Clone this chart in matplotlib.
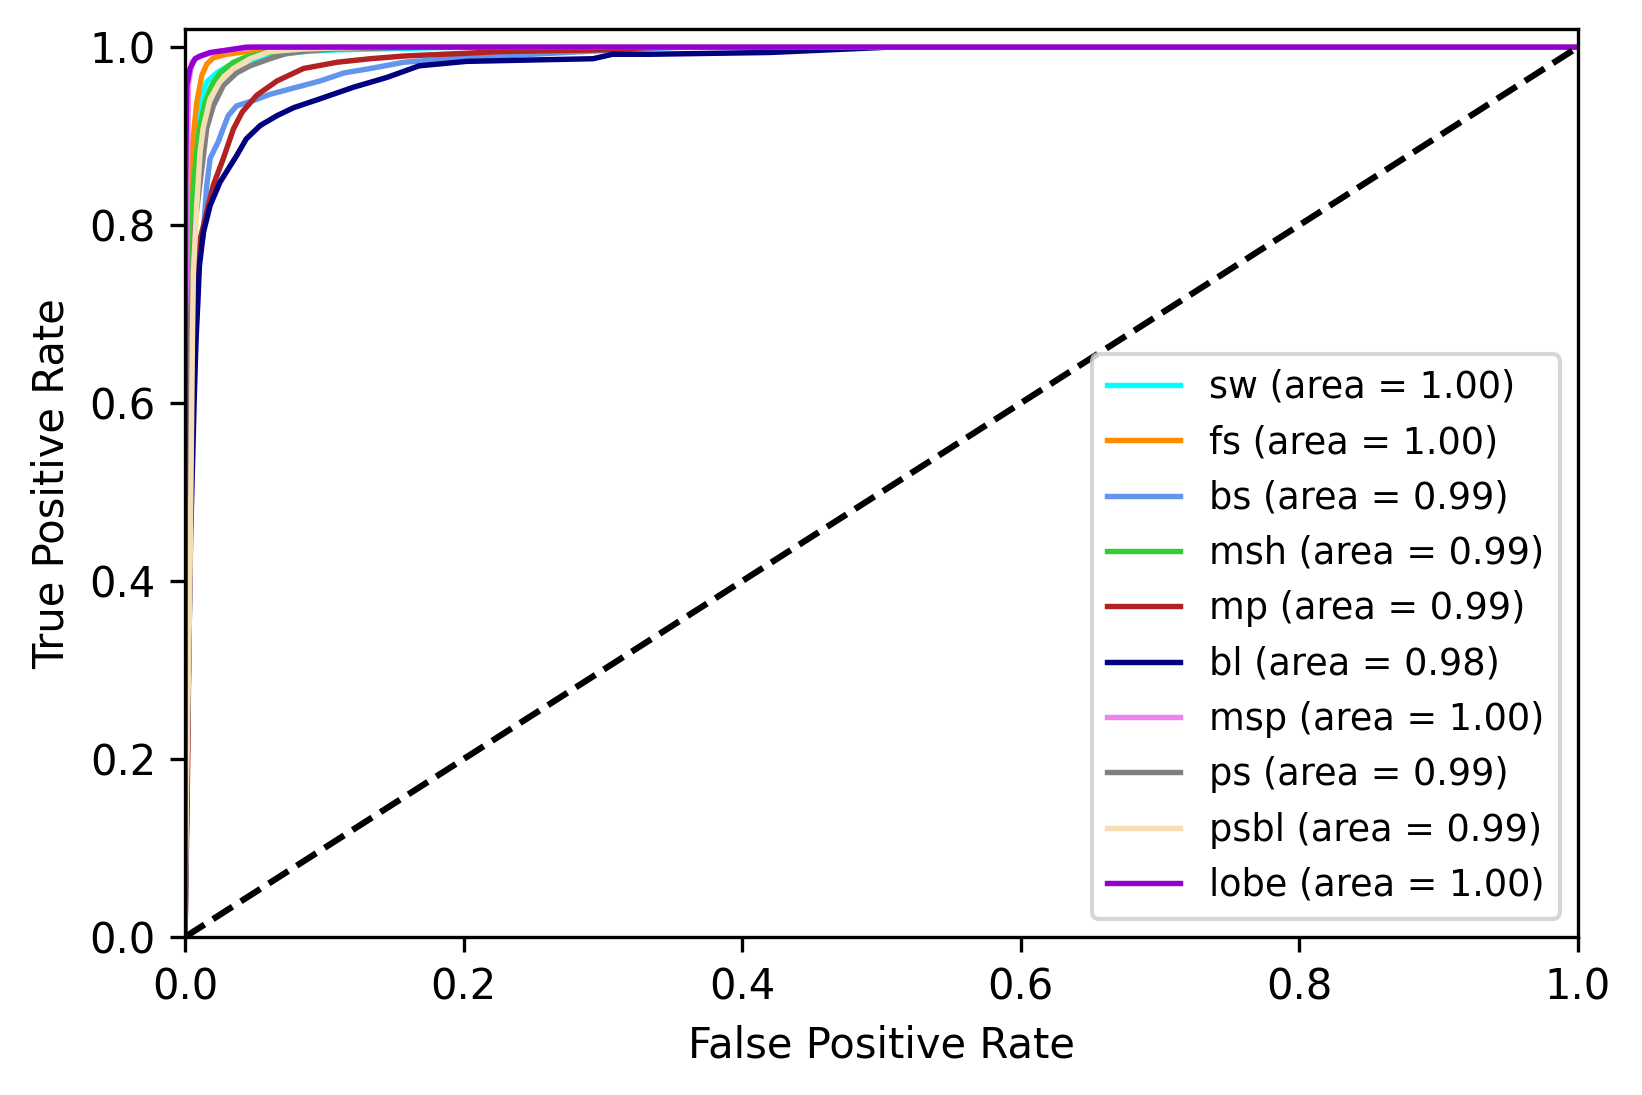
import numpy as np
import matplotlib.pyplot as plt

# class names and AUC values shown in the legend
classes = ['sw', 'fs', 'bs', 'msh', 'mp', 'bl', 'msp', 'ps', 'psbl', 'lobe']
aucs = [1.00, 1.00, 0.99, 0.99, 0.99, 0.98, 1.00, 0.99, 0.99, 1.00]
colors = ['aqua', 'darkorange', 'cornflowerblue', 'limegreen', 'firebrick',
          'navy', 'violet', 'gray', 'wheat', 'darkviolet']

# ROC points (fpr, tpr)
fpr_sw = [0, 0.0005, 0.0015, 0.003, 0.0048, 0.0072, 0.0108, 0.0156, 0.0227, 0.031, 0.044, 0.061, 0.085, 0.109, 0.14, 0.169, 0.2, 1.0]
tpr_sw = [0, 0.3, 0.55, 0.72, 0.845, 0.901, 0.938, 0.961, 0.971, 0.979, 0.985, 0.990, 0.995, 0.997, 0.998, 0.999, 1.0, 1.0]

fpr_fs = [0, 0.0005, 0.0015, 0.0028, 0.0036, 0.0048, 0.0084, 0.012, 0.0156, 0.0203, 0.0299, 0.049, 0.073, 0.097, 1.0]
tpr_fs = [0, 0.35, 0.6, 0.75, 0.845, 0.882, 0.938, 0.968, 0.981, 0.988, 0.992, 0.996, 0.999, 1.0, 1.0]

fpr_bs = [0, 0.001, 0.003, 0.006, 0.0084, 0.013, 0.0156, 0.018, 0.0239, 0.0275, 0.031, 0.037, 0.049, 0.061, 0.0754, 0.097, 0.114, 0.133, 0.157, 0.2, 0.262, 0.31, 0.36, 1.0]
tpr_bs = [0, 0.25, 0.5, 0.68, 0.75, 0.788, 0.845, 0.875, 0.894, 0.909, 0.923, 0.934, 0.940, 0.947, 0.953, 0.962, 0.971, 0.976, 0.983, 0.988, 0.993, 0.997, 1.0, 1.0]

fpr_msh = [0, 0.0005, 0.0015, 0.003, 0.0036, 0.0043, 0.006, 0.0084, 0.0108, 0.0144, 0.0191, 0.0251, 0.0347, 0.044, 0.056, 0.073, 0.085, 0.109, 1.0]
tpr_msh = [0, 0.3, 0.5, 0.62, 0.672, 0.784, 0.845, 0.882, 0.912, 0.938, 0.957, 0.971, 0.983, 0.989, 0.993, 0.996, 0.998, 1.0, 1.0]

fpr_mp = [0, 0.001, 0.002, 0.0025, 0.0036, 0.0048, 0.0065, 0.0077, 0.0084, 0.0091, 0.0108, 0.0203, 0.0275, 0.0347, 0.041, 0.0515, 0.066, 0.085, 0.109, 0.133, 0.157, 0.2, 0.226, 0.3, 0.34, 1.0]
tpr_mp = [0, 0.1, 0.21, 0.29, 0.435, 0.585, 0.66, 0.672, 0.71, 0.747, 0.784, 0.845, 0.875, 0.908, 0.927, 0.946, 0.962, 0.976, 0.983, 0.987, 0.990, 0.993, 0.995, 0.997, 1.0, 1.0]

fpr_bl = [0, 0.002, 0.004, 0.0065, 0.0079, 0.0091, 0.0103, 0.0132, 0.018, 0.025, 0.031, 0.037, 0.044, 0.054, 0.066, 0.078, 0.097, 0.121, 0.145, 0.168, 0.202, 0.293, 0.307, 0.334, 0.42, 0.506, 1.0]
tpr_bl = [0, 0.25, 0.45, 0.6, 0.672, 0.71, 0.754, 0.792, 0.822, 0.848, 0.863, 0.878, 0.897, 0.912, 0.923, 0.932, 0.942, 0.955, 0.966, 0.979, 0.984, 0.987, 0.992, 0.992, 0.994, 1.0, 1.0]

fpr_msp = [0, 0.0005, 0.001, 0.0024, 0.0048, 0.0084, 0.0156, 0.0227, 0.037, 0.05, 1.0]
tpr_msp = [0, 0.4, 0.75, 0.957, 0.983, 0.988, 0.992, 0.995, 0.998, 1.0, 1.0]

fpr_ps = [0, 0.0008, 0.002, 0.004, 0.007, 0.012, 0.0156, 0.0203, 0.0275, 0.037, 0.0467, 0.061, 0.073, 0.0897, 0.109, 0.14, 0.17, 1.0]
tpr_ps = [0, 0.3, 0.55, 0.7, 0.8, 0.863, 0.909, 0.934, 0.957, 0.971, 0.979, 0.987, 0.993, 0.996, 0.998, 0.999, 1.0, 1.0]

fpr_psbl = [0, 0.001, 0.0036, 0.0053, 0.006, 0.0084, 0.0108, 0.013, 0.018, 0.025, 0.0347, 0.0467, 0.061, 0.085, 0.109, 0.14, 1.0]
tpr_psbl = [0, 0.15, 0.41, 0.672, 0.747, 0.822, 0.882, 0.909, 0.942, 0.961, 0.976, 0.987, 0.995, 0.998, 0.999, 1.0, 1.0]

fpr_lobe = [0, 0.0002, 0.0004, 0.0012, 0.0036, 0.0072, 0.0108, 0.018, 0.0275, 0.044, 1.0]
tpr_lobe = [0, 0.5, 0.85, 0.957, 0.976, 0.987, 0.990, 0.994, 0.996, 1.0, 1.0]

fprs = [fpr_sw, fpr_fs, fpr_bs, fpr_msh, fpr_mp, fpr_bl, fpr_msp, fpr_ps, fpr_psbl, fpr_lobe]
tprs = [tpr_sw, tpr_fs, tpr_bs, tpr_msh, tpr_mp, tpr_bl, tpr_msp, tpr_ps, tpr_psbl, tpr_lobe]

fig = plt.figure(figsize=(1642 / 300, 1095 / 300), dpi=300)
ax = fig.add_axes([0.1127, 0.1443, 0.961 - 0.1127, 0.9732 - 0.1443])

for name, auc, c, f, t in zip(classes, aucs, colors, fprs, tprs):
    ax.plot(f, t, color=c, lw=1.3, label='{0} (area = {1:0.2f})'.format(name, auc))

ax.plot([0, 1], [0, 1], 'k--', lw=1.5)
ax.set_xlim([0.0, 1.0])
ax.set_ylim([0.0, 1.02])
ax.set_xlabel('False Positive Rate')
ax.set_ylabel('True Positive Rate')
ax.legend(loc='lower right', fontsize=8.8)

fig.savefig('out.png', dpi=300)
